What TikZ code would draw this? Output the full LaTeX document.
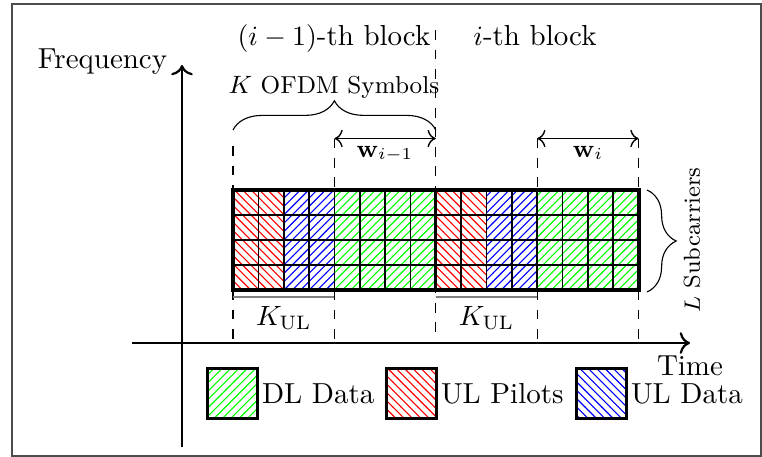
\documentclass[tikz,border=0pt]{standalone}
\usetikzlibrary{patterns,decorations.pathreplacing,calc,arrows.meta}
\begin{document}
\begin{tikzpicture}[x=0.012623cm, y=-0.012623cm,
  font=\fontsize{10.4}{12.5}\selectfont,
  >={To[scale=1.1]},
  dashln/.style={thin, dash pattern=on 3.5pt off 3.5pt},
  axisln/.style={thick, ->},
  cellgrid/.style={line width=0.6pt},
  ulp/.style={pattern=north west lines, pattern color=red},
  uld/.style={pattern=north east lines, pattern color=blue},
  dld/.style={pattern=north east lines, pattern color=green},
  smalllbl/.style={font=\fontsize{8.8}{10.5}\selectfont},
  legbox/.style={draw, line width=1pt, minimum width=17.8pt, minimum height=17.8pt, inner sep=0pt},
  legtext/.style={anchor=west, inner sep=1pt},
  bracefig/.style={decorate, decoration={brace, amplitude=10.5pt}}
]
\useasboundingbox (0,0) rectangle (762,457);
\draw[black!70, line width=0.6pt] (12,4) rectangle (761,456);

% time / frequency axes
\coordinate (xs) at (132,343);
\coordinate (xe) at (690,343);
\coordinate (ys) at (182,447);
\coordinate (ye) at (182,65);
\draw[axisln] (xs) -- (xe);
\draw[axisln] (ys) -- (ye);

% column boundaries of the resource grid
\def\cw{25.35}
\foreach \k in {0,...,16}{
  \coordinate (t\k) at ({233+\k*\cw},190);
  \coordinate (b\k) at ({233+\k*\cw},290);
  \coordinate (a\k) at ({233+\k*\cw},343);
}

% upper ends of the dashed guides
\coordinate (u0) at (t0 |- 0,146);
\coordinate (u4) at (t4 |- 0,138.5);
\coordinate (u8) at (t8 |- 0,30);
\coordinate (w8) at (t8 |- 0,138.5);
\coordinate (u12) at (t12 |- 0,138.5);
\coordinate (u16) at (t16 |- 0,138.5);

\draw[dashln] (u0) -- (t0);
\draw[dashln] (u4) -- (t4);
\draw[dashln] (u8) -- (a8);
\draw[dashln] (u12) -- (t12);
\draw[dashln] (u16) -- (t16);
\draw[dashln] (b0) -- (a0);
\draw[dashln] (b4) -- (a4);
\draw[dashln] (b12) -- (a12);
\draw[dashln] (b16) -- (a16);

% hatched resource elements
\fill[ulp] (t0) rectangle (b2);
\fill[uld] (t2) rectangle (b4);
\fill[dld] (t4) rectangle (b8);
\fill[ulp] (t8) rectangle (b10);
\fill[uld] (t10) rectangle (b12);
\fill[dld] (t12) rectangle (b16);

\foreach \k in {1,...,15} \draw[cellgrid] (t\k) -- (b\k);
\foreach \j in {1,2,3} \draw[cellgrid] ($(t0)!\j/4!(b0)$) -- ($(t16)!\j/4!(b16)$);
\draw[line width=1pt] (t8) -- (b8);
\draw[line width=1.4pt] (t0) rectangle (b16);

% K_UL markers
\coordinate (k0) at (t0 |- 0,297);
\coordinate (k4) at (t4 |- 0,297);
\coordinate (k8) at (t8 |- 0,297);
\coordinate (k12) at (t12 |- 0,297);
\draw[gray, thin] (k0) -- (k4);
\draw[gray, thin] (k8) -- (k12);

% window arrows
\draw[<->, line width=0.5pt] (u4) -- (w8);
\draw[<->, line width=0.5pt] (u12) -- (u16);

% braces
\coordinate (br0) at (t0 |- 0,130);
\coordinate (br8) at (t8 |- 0,130);
\draw[bracefig] (br0) -- (br8);
\coordinate (rb1) at (647,190);
\coordinate (rb2) at (647,292);
\draw[bracefig] (rb1) -- (rb2);

% labels
\node[anchor=base] (freq) at (102.5,68) {Frequency};
\node[anchor=base] (time) at (690,375) {Time};
\node[anchor=base] (blkA) at (334,45) {$(i-1)$-th block};
\node[anchor=base] (blkB) at (535,45) {$i$-th block};
\node[anchor=base, smalllbl] (ksym) at (334,93) {$K$ OFDM Symbols};
\node[anchor=base, smalllbl] (wA) at (385,157) {$\mathbf{w}_{i-1}$};
\node[anchor=base, smalllbl] (wB) at (588,157) {$\mathbf{w}_{i}$};
\node[anchor=base] (kulA) at (283.7,325) {$K_{\mathrm{UL}}$};
\node[anchor=base] (kulB) at (486.5,325) {$K_{\mathrm{UL}}$};
\node[rotate=90, font=\fontsize{8.3}{10}\selectfont] (lsub) at (692,240) {$L$ Subcarriers};

% legend
\node[legbox, dld] (lgDL) at (232.5,393.5) {};
\node[legtext] (txDL) at (lgDL.east) {DL Data};
\node[legbox, ulp] (lgUP) at (411.5,393.5) {};
\node[legtext] (txUP) at (lgUP.east) {UL Pilots};
\node[legbox, pattern=north west lines, pattern color=blue] (lgUD) at (601.5,393.5) {};
\node[legtext] (txUD) at (lgUD.east) {UL Data};
\end{tikzpicture}
\end{document}
